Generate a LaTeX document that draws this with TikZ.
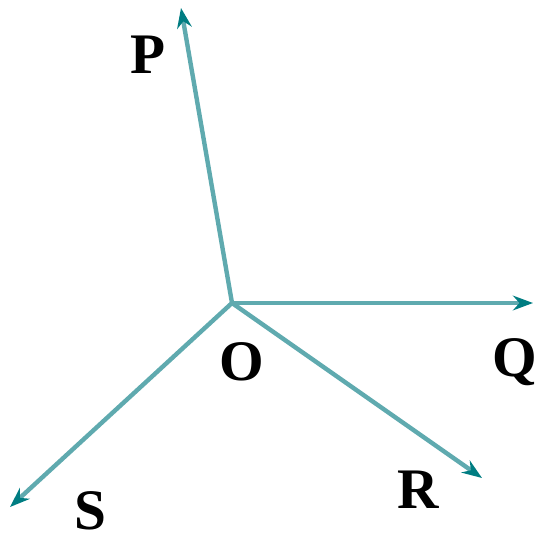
\documentclass[tikz,border=0pt]{standalone}
\usepackage{fontspec}
\setmainfont{Liberation Serif}
\usetikzlibrary{arrows.meta}
\definecolor{ray}{RGB}{95,170,175}
\definecolor{tip}{RGB}{0,125,130}
\begin{document}
\begin{tikzpicture}[x=0.75pt,y=-0.75pt,
  rayline/.style={draw=ray,line width=3.3pt,-{Stealth[length=15pt,width=11pt,color=tip]}},
  lbl/.style={font=\fontsize{43}{50}\selectfont\bfseries,inner sep=0pt}]
\useasboundingbox (0,0) rectangle (539,542);
\coordinate (O) at (232,303);
\coordinate (P) at (181,8);
\coordinate (Q) at (533,303);
\coordinate (R) at (482,478);
\coordinate (S) at (10,507);
\draw[rayline] (O) -- (P);
\draw[rayline] (O) -- (Q);
\draw[rayline] (O) -- (R);
\draw[rayline] (O) -- (S);
\node[lbl] (lP) at (148,55) {P};
\node[lbl] (lO) at (242,362) {O};
\node[lbl] (lQ) at (515,362) {Q};
\node[lbl] (lR) at (418,490) {R};
\node[lbl] (lS) at (90,511) {S};
\end{tikzpicture}
\end{document}
